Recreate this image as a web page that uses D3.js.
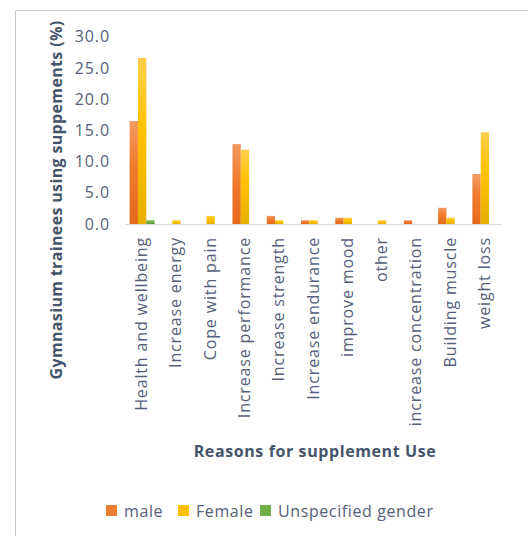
<!DOCTYPE html>
<html>
<head>
<meta charset="utf-8">
<script src="https://cdn.jsdelivr.net/npm/d3@7"></script>
<style>
  body { margin: 0; background: #fff; }
  svg { display: block; font-family: "Open Sans", sans-serif; }
</style>
</head>
<body>
<div id="chart"></div>
<script>
// data
var categories = ["Health and wellbeing", "Increase energy", "Cope with pain", "Increase performance",
  "Increase strength", "Increase endurance", "improve mood", "other", "increase concentration",
  "Building muscle", "weight loss"];
var seriesNames = ["male", "Female", "Unspecified gender"];
var male = [16.5, 0, 0, 12.8, 1.3, 0.6, 1.0, 0, 0.6, 2.6, 8.0];
var female = [26.6, 0.6, 1.3, 11.9, 0.6, 0.6, 1.0, 0.6, 0, 1.0, 14.7];
var unspecified = [0.6, 0, 0, 0, 0, 0, 0, 0, 0, 0, 0];
var yTicks = [0, 5, 10, 15, 20, 25, 30];

var values = [male, female, unspecified];
var colors = ["#ed7d31", "#ffc000", "#70ad47"];
var grads = [["#f29a62", "#ef7b2c", "#e4691b"], ["#ffcf4a", "#ffc000", "#e6b000"], ["#86bd60", "#70ad47", "#5f9a3a"]];

var width = 528, height = 536;
var svg = d3.select("#chart").append("svg")
  .attr("width", width)
  .attr("height", height);

// chart frame (only top and left edges visible)
svg.append("path")
  .attr("d", "M15.5,536 V10.5 H528")
  .attr("fill", "none")
  .attr("stroke", "#c8c8c8")
  .attr("stroke-width", 1);

var defs = svg.append("defs");
grads.forEach(function(g, i) {
  var lg = defs.append("linearGradient")
    .attr("id", "grad" + i)
    .attr("x1", 0).attr("y1", 0).attr("x2", 0).attr("y2", 1);
  lg.append("stop").attr("offset", "0%").attr("stop-color", g[0]);
  lg.append("stop").attr("offset", "45%").attr("stop-color", g[1]);
  lg.append("stop").attr("offset", "100%").attr("stop-color", g[2]);
});

var y = d3.scaleLinear().domain([0, 30]).range([224, 36.7]);
var x0 = d3.scaleBand().domain(categories).range([125, 502]);
var bw = x0.bandwidth();
var x1 = d3.scaleBand().domain(seriesNames).range([(bw - 25) / 2, (bw + 25) / 2]);

// y tick labels
svg.append("g").selectAll("text")
  .data(yTicks)
  .enter().append("text")
    .attr("x", 110)
    .attr("y", function(d) { return y(d); })
    .attr("dy", "0.35em")
    .attr("text-anchor", "end")
    .attr("fill", "#55607a")
    .style("font-size", "16px")
    .style("letter-spacing", "0.9px")
    .text(function(d) { return d3.format(".1f")(d); });

// bars
categories.forEach(function(c, ci) {
  var g = svg.append("g").attr("transform", "translate(" + x0(c) + ",0)");
  seriesNames.forEach(function(s, si) {
    var v = values[si][ci];
    if (!v) return;
    g.append("rect")
      .attr("x", x1(s))
      .attr("y", y(v))
      .attr("width", x1.bandwidth())
      .attr("height", y(0) - y(v))
      .attr("fill", "url(#grad" + si + ")");
  });
});

// x axis line
svg.append("line")
  .attr("x1", 125).attr("x2", 502)
  .attr("y1", y(0) + 0.5).attr("y2", y(0) + 0.5)
  .attr("stroke", "#d9d9d9");

// x category labels, rotated
svg.append("g").selectAll("text")
  .data(categories)
  .enter().append("text")
    .attr("transform", function(d) {
      return "translate(" + (x0(d) + bw / 2 + 5) + ",237) rotate(-90)";
    })
    .attr("text-anchor", "end")
    .attr("fill", "#55607a")
    .style("font-size", "16px")
    .style("letter-spacing", "0.85px")
    .text(function(d) { return d; });

// axis titles
svg.append("text")
  .attr("transform", "translate(62,200) rotate(-90)")
  .attr("text-anchor", "middle")
  .attr("fill", "#44546a")
  .style("font-size", "16px")
  .style("font-weight", "bold")
  .style("letter-spacing", "0.35px")
  .text("Gymnasium trainees using suppements (%)");

svg.append("text")
  .attr("x", 315)
  .attr("y", 457)
  .attr("text-anchor", "middle")
  .attr("fill", "#44546a")
  .style("font-size", "16px")
  .style("font-weight", "bold")
  .style("letter-spacing", "0.6px")
  .text("Reasons for supplement Use");

// legend
var legendX = [106, 178, 260];
var legend = svg.append("g");
seriesNames.forEach(function(s, i) {
  legend.append("rect")
    .attr("x", legendX[i])
    .attr("y", 505)
    .attr("width", 11)
    .attr("height", 11)
    .attr("fill", colors[i]);
  legend.append("text")
    .attr("x", legendX[i] + 18)
    .attr("y", 511)
    .attr("dy", "0.35em")
    .attr("fill", "#55607a")
    .style("font-size", "16px")
    .style("letter-spacing", "0.6px")
    .text(s);
});
</script>
</body>
</html>
